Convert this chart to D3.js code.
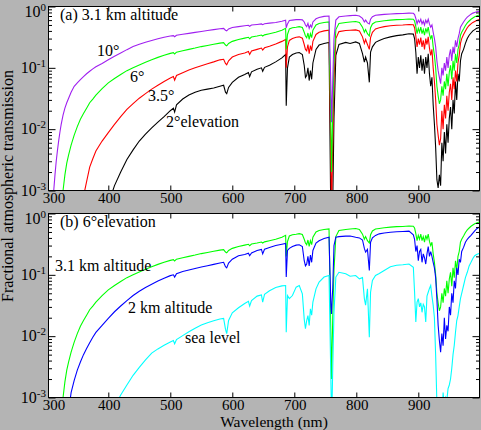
<!DOCTYPE html>
<html><head><meta charset="utf-8">
<script src="https://cdn.jsdelivr.net/npm/d3@7"></script>
<style>
body{margin:0;background:#b4b4b4}
svg{display:block}
svg text{font-family:"Liberation Serif","Times New Roman",serif;fill:#000}
</style>
</head><body>
<svg id="c" width="481" height="430"></svg>
<script>
// ---- data ----
const wavelengths = [
300,305,310,312,314,316,318,320,322,324,327,330,333,336,340,345,350,355,360,365,370,375,380,
390,400,410,420,430,440,450,460,470,480,490,500,
505,507,510,520,530,540,550,560,570,580,
586,589,591,594,600,610,620,626,628,631,
640,647,649,652,660,670,680,686,687,689,
692,697,703,708,713,716,718,720,722,724,
726,728,730,735,740,748,756,759,760,761,
762,764,767,772,783,790,799,805,810,813,
815,818,821,823,826,831,837,845,855,865,
875,885,892,894,896,898,900,902,904,906,
908,910,912,914,916,918,920,922,924,926,928,930,
932,934,936,938,940,942,944,946,948,950,952,954,956,958,960,962,964,966,968,970,
973,976,979,982,985,988,991,994,997,1000];

// (a) 3.1 km altitude
const elev10 = [
0.00003,0.0001,0.0005,0.001,0.0018,0.003,0.0045,0.0065,0.009,0.012,0.017,0.022,0.027,0.032,0.04,0.05,0.057,0.064,0.072,0.08,0.088,0.096,0.104,
0.118,0.135,0.155,0.175,0.198,0.222,0.243,0.262,0.28,0.298,0.315,0.33,
0.335,0.322,0.34,0.352,0.365,0.378,0.392,0.405,0.42,0.435,
0.44,0.41,0.40,0.43,0.455,0.47,0.485,0.495,0.475,0.498,
0.51,0.52,0.505,0.522,0.535,0.55,0.575,0.6,0.45,0.52,
0.59,0.6,0.61,0.615,0.605,0.56,0.5,0.47,0.53,0.44,
0.5,0.46,0.56,0.63,0.66,0.69,0.7,0.05,0.013,0.025,
0.06,0.3,0.6,0.68,0.7,0.71,0.72,0.7,0.64,0.56,
0.6,0.54,0.52,0.62,0.68,0.72,0.73,0.745,0.755,0.765,
0.77,0.78,0.775,0.74,0.64,0.52,0.6,0.55,0.62,0.52,
0.58,0.5,0.6,0.54,0.62,0.52,0.46,0.5,0.38,0.3,0.22,0.13,
0.09,0.07,0.055,0.1,0.075,0.12,0.09,0.15,0.1,0.16,0.2,0.13,0.22,0.17,0.28,0.22,0.3,0.36,0.46,0.5,
0.56,0.62,0.67,0.71,0.75,0.78,0.8,0.82,0.83,0.84];

const elev6 = [
1e-5,1e-5,1e-5,2e-5,4e-5,8e-5,0.00014,0.00022,0.00035,0.00055,0.001,0.0018,0.0028,0.0038,0.0055,0.008,0.011,0.0145,0.018,0.022,0.027,0.031,0.036,
0.046,0.057,0.067,0.078,0.09,0.1,0.111,0.123,0.135,0.148,0.16,0.172,
0.177,0.168,0.18,0.19,0.2,0.21,0.222,0.232,0.242,0.253,
0.258,0.235,0.228,0.25,0.27,0.29,0.305,0.315,0.298,0.318,
0.33,0.342,0.33,0.345,0.36,0.38,0.41,0.44,0.2,0.35,
0.43,0.45,0.46,0.47,0.455,0.38,0.33,0.31,0.37,0.29,
0.36,0.31,0.41,0.5,0.53,0.55,0.56,0.01,0.002,0.006,
0.02,0.12,0.42,0.53,0.55,0.56,0.57,0.55,0.46,0.38,
0.42,0.36,0.33,0.45,0.52,0.56,0.57,0.585,0.6,0.61,
0.615,0.625,0.62,0.58,0.47,0.36,0.44,0.38,0.46,0.36,
0.42,0.34,0.44,0.38,0.46,0.35,0.3,0.34,0.22,0.16,0.1,0.05,
0.035,0.026,0.03,0.05,0.035,0.06,0.045,0.08,0.05,0.085,0.11,0.065,0.13,0.09,0.17,0.12,0.2,0.24,0.34,0.38,
0.43,0.49,0.54,0.58,0.62,0.65,0.68,0.7,0.72,0.73];

const elev35 = [
1e-6,1e-6,1e-6,1e-6,1e-6,1e-6,1e-6,1e-6,1e-6,1e-6,1e-6,1e-6,2e-6,5e-6,1e-5,5e-5,0.00015,0.0004,0.0008,0.0014,0.0024,0.0033,0.0044,
0.0064,0.0088,0.012,0.016,0.021,0.026,0.032,0.038,0.045,0.052,0.06,0.068,
0.072,0.063,0.075,0.083,0.092,0.1,0.108,0.117,0.125,0.135,
0.138,0.118,0.112,0.13,0.15,0.165,0.175,0.185,0.165,0.188,
0.2,0.21,0.195,0.212,0.225,0.245,0.27,0.29,0.1,0.22,
0.28,0.3,0.315,0.32,0.305,0.24,0.2,0.19,0.24,0.17,
0.23,0.19,0.27,0.35,0.38,0.4,0.41,0.003,0.0005,0.0015,
0.006,0.06,0.3,0.39,0.405,0.41,0.415,0.4,0.32,0.25,
0.29,0.24,0.2,0.31,0.38,0.43,0.45,0.47,0.485,0.495,
0.5,0.51,0.505,0.45,0.33,0.22,0.3,0.24,0.31,0.22,
0.28,0.2,0.3,0.24,0.32,0.21,0.16,0.2,0.1,0.06,0.03,0.012,
0.008,0.0055,0.007,0.02,0.01,0.025,0.015,0.035,0.02,0.04,0.055,0.03,0.07,0.045,0.09,0.06,0.12,0.16,0.25,0.3,
0.35,0.4,0.45,0.49,0.52,0.55,0.57,0.59,0.61,0.62];

const elev2 = [
1e-6,1e-6,1e-6,1e-6,1e-6,1e-6,1e-6,1e-6,1e-6,1e-6,1e-6,1e-6,1e-6,1e-6,1e-6,1e-6,1e-6,1e-6,1e-6,1e-6,1e-6,1e-6,1e-6,
0.0003,0.0006,0.0012,0.002,0.0032,0.0046,0.0064,0.0083,0.0105,0.013,0.016,0.02,
0.022,0.019,0.025,0.031,0.036,0.04,0.043,0.045,0.047,0.05,
0.052,0.04,0.038,0.048,0.058,0.07,0.078,0.084,0.072,0.086,
0.095,0.1,0.088,0.102,0.11,0.125,0.145,0.165,0.024,0.1,
0.15,0.165,0.175,0.178,0.165,0.11,0.07,0.075,0.1,0.062,
0.09,0.065,0.12,0.2,0.235,0.25,0.26,0.0003,0.00005,0.0001,
0.0006,0.015,0.16,0.24,0.26,0.25,0.265,0.25,0.17,0.124,
0.15,0.12,0.058,0.18,0.22,0.26,0.28,0.3,0.32,0.335,
0.345,0.36,0.355,0.3,0.18,0.08,0.15,0.1,0.16,0.09,
0.14,0.08,0.15,0.1,0.17,0.08,0.05,0.07,0.025,0.012,0.005,0.0015,
0.0011,0.0018,0.0012,0.006,0.003,0.009,0.004,0.012,0.006,0.015,0.023,0.01,0.03,0.018,0.06,0.03,0.08,0.06,0.13,0.17,
0.2,0.25,0.3,0.34,0.37,0.4,0.42,0.44,0.45,0.46];

// (b) 6 deg elevation
const alt2km = [
1e-6,1e-6,1e-6,1e-6,1e-6,1e-6,1e-6,1e-6,1e-6,1e-6,1e-6,1e-6,0.0002,0.0006,0.0012,0.0019,0.0028,0.0038,0.005,0.0063,0.0078,0.0096,0.0115,
0.015,0.0195,0.025,0.031,0.038,0.046,0.054,0.062,0.07,0.079,0.088,0.097,
0.1,0.092,0.104,0.113,0.12,0.127,0.134,0.141,0.148,0.156,
0.16,0.136,0.13,0.155,0.18,0.205,0.215,0.225,0.205,0.228,
0.25,0.26,0.22,0.262,0.28,0.3,0.315,0.325,0.092,0.25,
0.27,0.29,0.305,0.31,0.29,0.17,0.14,0.15,0.2,0.14,
0.21,0.16,0.25,0.33,0.36,0.39,0.41,0.03,0.023,0.04,
0.06,0.3,0.41,0.42,0.427,0.43,0.41,0.4,0.37,0.27,
0.235,0.26,0.118,0.34,0.4,0.44,0.466,0.48,0.495,0.505,
0.51,0.515,0.45,0.38,0.24,0.3,0.17,0.24,0.26,0.16,
0.22,0.19,0.15,0.22,0.29,0.2,0.24,0.2,0.16,0.13,0.09,0.04,
0.015,0.0085,0.0055,0.011,0.007,0.02,0.009,0.015,0.012,0.03,0.022,0.05,0.035,0.08,0.06,0.13,0.1,0.18,0.16,0.24,
0.28,0.34,0.38,0.41,0.44,0.48,0.52,0.56,0.59,0.61];

const seaLevel = [
1e-6,1e-6,1e-6,1e-6,1e-6,1e-6,1e-6,1e-6,1e-6,1e-6,1e-6,1e-6,1e-6,1e-6,1e-6,1e-6,1e-6,1e-6,1e-6,1e-6,1e-6,1e-6,1e-6,
0.0002,0.0004,0.0007,0.0011,0.0016,0.0023,0.0031,0.0041,0.0053,0.0062,0.0071,0.008,
0.0085,0.0075,0.0088,0.0102,0.0118,0.0135,0.0152,0.0166,0.0178,0.019,
0.0195,0.013,0.011,0.018,0.024,0.029,0.034,0.037,0.031,0.038,
0.045,0.047,0.036,0.048,0.055,0.062,0.066,0.067,0.0116,0.046,
0.041,0.046,0.063,0.067,0.049,0.019,0.0132,0.018,0.0217,0.0149,
0.028,0.022,0.036,0.059,0.076,0.092,0.0975,0.002,0.0005,0.0009,
0.003,0.0245,0.092,0.11,0.104,0.095,0.0975,0.086,0.09,0.041,
0.032,0.059,0.0096,0.052,0.081,0.0975,0.105,0.118,0.135,0.143,
0.146,0.15,0.133,0.052,0.017,0.036,0.041,0.03,0.035,0.0245,
0.033,0.03,0.017,0.045,0.052,0.06,0.067,0.045,0.032,0.02,0.0048,0.0008,
0.0005,0.0003,0.0006,0.0004,0.0012,0.0007,0.001,0.0009,0.0014,0.0016,0.002,0.003,0.005,0.0071,0.0116,0.018,0.0217,0.03,0.041,0.05,
0.067,0.09,0.11,0.14,0.16,0.185,0.205,0.215,0.22,0.225];

const xTickValues = [300,400,500,600,700,800,900];
const yDecades = [1,0.1,0.01,0.001];
const yExponents = ["0","-1","-2","-3"];

// ---- drawing ----
const W = 481, H = 430;
const svg = d3.select("#c");
svg.append("rect").attr("width", W).attr("height", H).attr("fill", "#b4b4b4");

const x = d3.scaleLinear().domain([300, 1000]).range([46.3, 480.3]);
const L = 48, R = 480;

const panels = [
  { top: 6, bottom: 190, label: "(a) 3.1 km altitude",
    series: [[elev2, "#000000"], [elev35, "#ff0000"], [elev6, "#00ff00"], [elev10, "#a020f0"]],
    texts: [["10°", 97, 56], ["6°", 130, 82], ["3.5°", 148, 101], ["2°elevation", 166, 127]] },
  { top: 213, bottom: 397, label: "(b) 6°elevation",
    series: [[elev6, "#00ff00"], [alt2km, "#0000ff"], [seaLevel, "#00ffff"]],
    texts: [["3.1 km altitude", 55, 271], ["2 km altitude", 128, 313], ["sea level", 185, 343]] }
];

const minor = [];
[0.001, 0.01, 0.1].forEach(d => { for (let k = 2; k <= 9; k++) minor.push(d * k); });

panels.forEach((p, i) => {
  const y = d3.scaleLog().domain([1e-3, 1]).range([p.bottom + 0.5, p.top + 0.5]);
  const g = svg.append("g");
  g.append("rect").attr("x", L).attr("y", p.top).attr("width", R - L).attr("height", p.bottom - p.top + 1).attr("fill", "#fff");

  const cid = "clip" + i;
  svg.append("clipPath").attr("id", cid).append("rect")
    .attr("x", L + 1).attr("y", p.top + 1).attr("width", R - L - 2).attr("height", p.bottom - p.top - 0.5);

  const line = d3.line()
    .x((d, j) => x(wavelengths[j]))
    .y(d => y(Math.max(d, 1e-5)));
  const lg = g.append("g").attr("clip-path", `url(#${cid})`);
  p.series.forEach(([vals, col]) => {
    lg.append("path").datum(vals).attr("d", line)
      .attr("fill", "none").attr("stroke", col).attr("stroke-width", 1.1)
      .attr("stroke-linejoin", "miter");
  });

  // axes (ticks inward)
  const xt = xTickValues.filter(v => x(v) > L + 1);
  const axB = g.append("g").attr("transform", `translate(0,${p.bottom + 0.5})`)
    .call(d3.axisBottom(x).tickValues(xt).tickSize(-5).tickFormat(""));
  const axT = g.append("g").attr("transform", `translate(0,${p.top + 0.5})`)
    .call(d3.axisTop(x).tickValues(xt).tickSize(-5).tickFormat(""));
  const axL = g.append("g").attr("transform", `translate(${L + 0.5},0)`)
    .call(d3.axisLeft(y).tickValues(yDecades).tickSize(-7).tickFormat(""));
  const axLm = g.append("g").attr("transform", `translate(${L + 0.5},0)`)
    .call(d3.axisLeft(y).tickValues(minor).tickSize(-3.5).tickFormat(""));
  const axR = g.append("g").attr("transform", `translate(${R - 0.5},0)`)
    .call(d3.axisRight(y).tickValues(yDecades).tickSize(-7).tickFormat(""));
  const axRm = g.append("g").attr("transform", `translate(${R - 0.5},0)`)
    .call(d3.axisRight(y).tickValues(minor).tickSize(-3.5).tickFormat(""));
  [axB, axT, axL, axLm, axR, axRm].forEach(a => {
    a.select(".domain").remove();
    a.selectAll("line").attr("stroke", "#000");
  });

  // frame
  g.append("rect").attr("x", L + 0.5).attr("y", p.top + 0.5)
    .attr("width", R - L - 1).attr("height", p.bottom - p.top)
    .attr("fill", "none").attr("stroke", "#000").attr("stroke-width", 1);

  // y tick labels
  yDecades.forEach((v, k) => {
    const yy = k === 0 ? p.top + 11 : y(v) + 5;
    const t = g.append("text").attr("x", 46).attr("y", yy).attr("text-anchor", "end")
      .attr("font-size", 16);
    t.append("tspan").text("10");
    t.append("tspan").attr("dy", -6).attr("font-size", 11).text(yExponents[k]);
  });

  // x tick labels
  xTickValues.forEach(v => {
    const xx = v === 300 ? 54 : x(v) + 1;
    g.append("text").attr("x", xx).attr("y", p.bottom + 12.5).attr("text-anchor", "middle")
      .attr("font-size", 15).text(v);
  });

  g.append("text").attr("x", 60).attr("y", p.top + 14).attr("font-size", 16).text(p.label);
  p.texts.forEach(([s, tx, ty]) => {
    g.append("text").attr("x", tx).attr("y", ty).attr("font-size", 16).text(s);
  });
});

svg.append("text").attr("x", 274).attr("y", 426.5).attr("text-anchor", "middle")
  .attr("font-size", 15.5).text("Wavelength (nm)");
svg.append("text").attr("transform", "translate(13,186) rotate(-90)").attr("text-anchor", "middle")
  .attr("font-size", 16).text("Fractional atmospheric transmission");
</script>
</body></html>
